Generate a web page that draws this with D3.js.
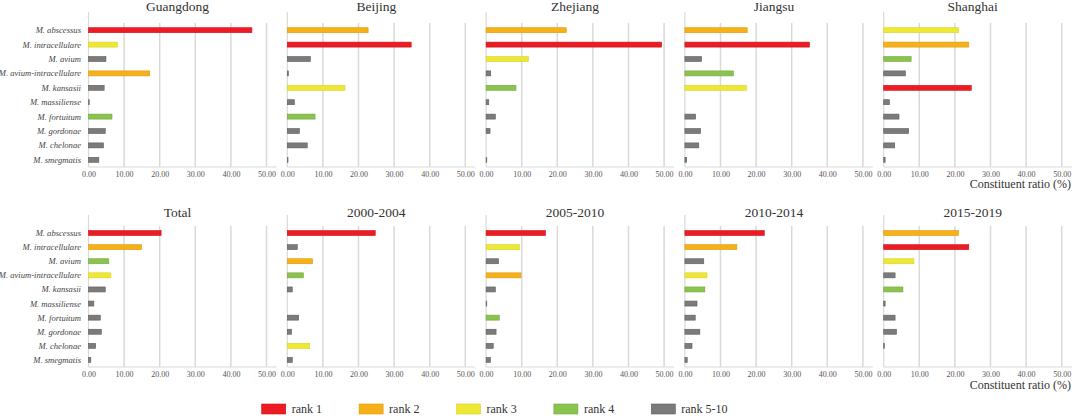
<!DOCTYPE html>
<html>
<head>
<meta charset="utf-8">
<script src="https://cdn.jsdelivr.net/npm/d3@7"></script>
<style>
  body { margin: 0; background: #fff; }
  svg { display: block; }
  svg text { font-family: "Liberation Serif", "DejaVu Serif", serif; font-weight: normal; }
</style>
</head>
<body>
<svg id="chart"></svg>
<script>
// Species (rows, top to bottom)
const species = [
  "M. abscessus", "M. intracellulare", "M. avium", "M. avium-intracellulare",
  "M. kansasii", "M. massiliense", "M. fortuitum", "M. gordonae",
  "M. chelonae", "M. smegmatis"
];

// Constituent ratio (%) per panel
const guangdong = [45.9, 8.1, 4.9, 17.2, 4.4, 0.2, 6.6, 4.7, 4.2, 2.9];
const beijing   = [22.7, 34.8, 6.5, 0.3, 16.2, 2.0, 7.8, 3.4, 5.6, 0.2];
const zhejiang  = [22.5, 49.3, 11.9, 1.3, 8.4, 0.75, 2.6, 1.1, 0, 0.2];
const jiangsu   = [17.5, 35.0, 4.7, 13.6, 17.3, 0, 3.0, 4.4, 3.9, 0.5];
const shanghai  = [21.0, 23.9, 7.7, 6.1, 24.6, 1.6, 4.3, 7.0, 3.1, 0.4];
const total     = [20.4, 14.9, 5.7, 6.3, 4.7, 1.5, 3.3, 3.6, 2.0, 0.65];
const y2000     = [24.7, 2.8, 7.1, 4.5, 1.4, 0, 3.2, 1.2, 6.3, 1.4];
const y2005     = [16.7, 9.4, 3.5, 9.8, 2.6, 0.2, 3.7, 2.8, 2.0, 1.2];
const y2010     = [22.3, 14.6, 5.3, 6.2, 5.6, 3.4, 2.9, 4.2, 2.0, 0.65];
const y2015     = [21.0, 23.9, 8.5, 3.2, 5.4, 0.4, 3.2, 3.6, 0.2, 0];

// Rank of each species within a panel (5 = rank 5-10)
const rkGuangdong = [1, 3, 5, 2, 5, 5, 4, 5, 5, 5];
const rkBeijing   = [2, 1, 5, 5, 3, 5, 4, 5, 5, 5];
const rkZhejiang  = [2, 1, 3, 5, 4, 5, 5, 5, 5, 5];
const rkJiangsu   = [2, 1, 5, 4, 3, 5, 5, 5, 5, 5];
const rkShanghai  = [3, 2, 4, 5, 1, 5, 5, 5, 5, 5];
const rkTotal     = [1, 2, 4, 3, 5, 5, 5, 5, 5, 5];
const rk2000      = [1, 5, 2, 4, 5, 5, 5, 5, 3, 5];
const rk2005      = [1, 3, 5, 2, 5, 5, 4, 5, 5, 5];
const rk2010      = [1, 2, 5, 3, 4, 5, 5, 5, 5, 5];
const rk2015      = [2, 1, 3, 5, 4, 5, 5, 5, 5, 5];

const topTitles = ["Guangdong", "Beijing", "Zhejiang", "Jiangsu", "Shanghai"];
const bottomTitles = ["Total", "2000-2004", "2005-2010", "2010-2014", "2015-2019"];
const topValues = [guangdong, beijing, zhejiang, jiangsu, shanghai];
const bottomValues = [total, y2000, y2005, y2010, y2015];
const topRanks = [rkGuangdong, rkBeijing, rkZhejiang, rkJiangsu, rkShanghai];
const bottomRanks = [rkTotal, rk2000, rk2005, rk2010, rk2015];

const xTicks = [0, 10, 20, 30, 40, 50];
const rankKeys = [1, 2, 3, 4, 5];
const rankLabels = ["rank 1", "rank 2", "rank 3", "rank 4", "rank 5-10"];
const rankFill = ["#ed1c24", "#f5b117", "#eee834", "#8bc34f", "#7b7b7b"];
const rankStroke = ["#c9161d", "#e09a10", "#d8d22a", "#73a73f", "#5e5e5e"];

const width = 1074;
const height = 416;
const serif = "'Liberation Serif', 'DejaVu Serif', serif";

const svg = d3.select("#chart").attr("width", width).attr("height", height);

const color = d3.scaleOrdinal().domain(rankKeys).range(rankFill);
const stroke = d3.scaleOrdinal().domain(rankKeys).range(rankStroke);

const panelStart = 88.5;
const panelStep = 198.8;
const panelWidth = 178;

// row geometry for the two rows of panels
const rows = [
  { titles: topTitles, values: topValues, ranks: topRanks,
    titleY: 11, axisTop: 12, gridTop: 23, baseline: 167, unitY: 188 },
  { titles: bottomTitles, values: bottomValues, ranks: bottomRanks,
    titleY: 217, axisTop: 215, gridTop: 226, baseline: 367, unitY: 389 }
];

function drawPanel(g, row, i) {
  const x0 = panelStart + i * panelStep;
  const x = d3.scaleLinear().domain([0, 50]).range([x0, x0 + panelWidth]);
  const y = d3.scaleBand().domain(species).range([row.gridTop, row.baseline]);
  const values = row.values[i];
  const ranks = row.ranks[i];

  // Gridlines
  g.append("g")
    .selectAll("line")
    .data(xTicks.slice(1))
    .join("line")
    .attr("x1", (d) => x(d))
    .attr("x2", (d) => x(d))
    .attr("y1", row.gridTop)
    .attr("y2", row.baseline)
    .attr("stroke", "#d9d9d9")
    .attr("stroke-width", 1.5);

  // Left axis line and baseline
  g.append("line")
    .attr("x1", x(0)).attr("x2", x(0))
    .attr("y1", row.axisTop).attr("y2", row.baseline)
    .attr("stroke", "#d9d9d9").attr("stroke-width", 1.2);
  g.append("line")
    .attr("x1", x(0)).attr("x2", x0 + panelWidth + 10)
    .attr("y1", row.baseline).attr("y2", row.baseline)
    .attr("stroke", "#d9d9d9").attr("stroke-width", 1.2);

  // Tick labels
  const axis = g.append("g")
    .attr("transform", `translate(0,${row.baseline})`)
    .call(d3.axisBottom(x).tickValues(xTicks).tickSize(0).tickFormat(d3.format(".2f")));
  axis.attr("font-family", null);
  axis.select(".domain").remove();
  axis.selectAll("text")
    .attr("dy", null)
    .attr("y", 9.5)
    .attr("font-family", serif)
    .attr("font-size", 8)
    .attr("fill", "#555");

  // Bars
  const barH = 5;
  g.append("g")
    .selectAll("rect")
    .data(species.map((s, k) => ({ s, v: values[k], r: ranks[k] })).filter((d) => d.v > 0))
    .join("rect")
    .attr("x", x(0))
    .attr("y", (d) => y(d.s) + y.bandwidth() / 2 - barH / 2)
    .attr("width", (d) => Math.max(0.6, x(d.v) - x(0)))
    .attr("height", barH)
    .attr("fill", (d) => color(d.r))
    .attr("stroke", (d) => stroke(d.r))
    .attr("stroke-width", 0.6);

  // Title
  g.append("text")
    .attr("x", (x(0) + x(50)) / 2)
    .attr("y", row.titleY)
    .attr("text-anchor", "middle")
    .attr("font-family", serif)
    .attr("font-size", 13.5)
    .attr("fill", "#333")
    .text(row.titles[i]);

  // Species labels on the first panel only
  if (i === 0) {
    g.append("g")
      .selectAll("text")
      .data(species)
      .join("text")
      .attr("x", 81)
      .attr("y", (d) => y(d) + y.bandwidth() / 2)
      .attr("dy", "0.35em")
      .attr("text-anchor", "end")
      .attr("font-family", serif)
      .attr("font-size", 8.6)
      .attr("font-style", "italic")
      .attr("fill", "#444")
      .text((d) => d);
  }
}

rows.forEach((row) => {
  const g = svg.append("g");
  row.titles.forEach((t, i) => drawPanel(g, row, i));

  g.append("text")
    .attr("x", 1071)
    .attr("y", row.unitY)
    .attr("text-anchor", "end")
    .attr("font-family", serif)
    .attr("font-size", 12)
    .attr("fill", "#333")
    .text("Constituent ratio (%)");
});

// Legend
const legendX = d3.scaleBand().domain(rankKeys).range([261.7, 261.7 + 97.4 * 5]);
const legend = svg.append("g")
  .selectAll("g")
  .data(rankKeys)
  .join("g")
  .attr("transform", (d) => `translate(${legendX(d)},404)`);

legend.append("rect")
  .attr("width", 24)
  .attr("height", 10)
  .attr("fill", (d) => color(d))
  .attr("stroke", (d) => stroke(d))
  .attr("stroke-width", 0.6);

legend.append("text")
  .attr("x", 30)
  .attr("y", 9)
  .attr("font-family", serif)
  .attr("font-size", 12)
  .attr("fill", "#333")
  .text((d, i) => rankLabels[i]);
</script>
</body>
</html>
